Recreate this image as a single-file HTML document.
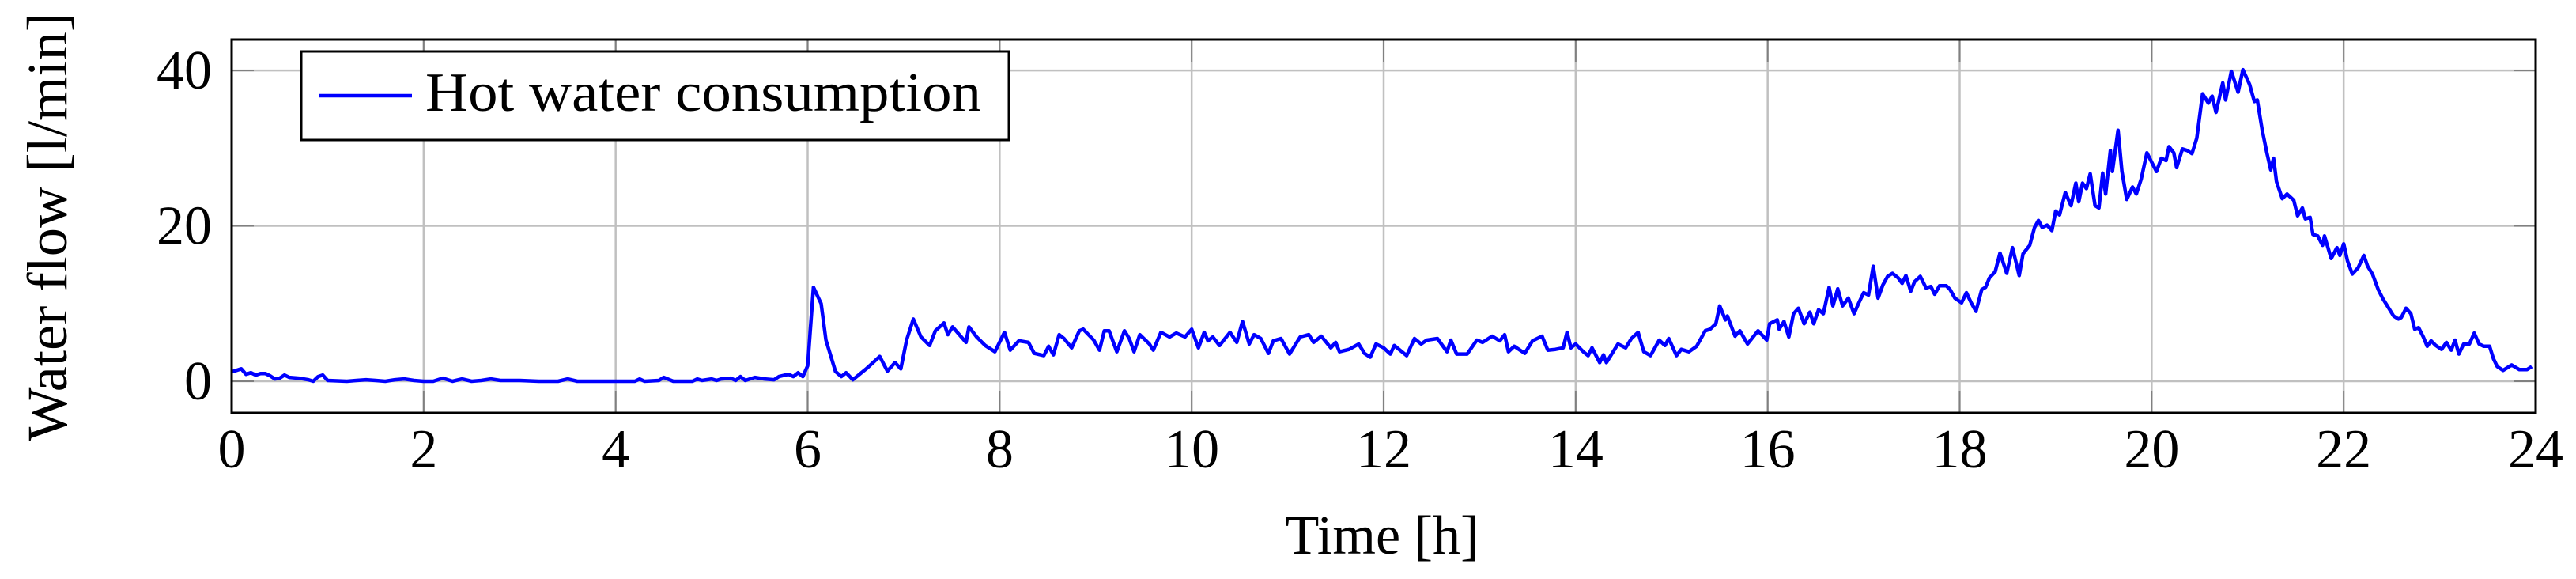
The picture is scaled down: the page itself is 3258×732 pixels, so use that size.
<!DOCTYPE html>
<html><head><meta charset="utf-8"><style>
html,body{margin:0;padding:0;background:#fff}
svg{display:block}
text{font-family:"Liberation Serif",serif;fill:#000}
</style></head><body>
<svg id="chart" width="3258" height="732" viewBox="0 0 3258 732" xmlns="http://www.w3.org/2000/svg">
<g id="grid"></g>
<g id="series"></g>
<rect x="293" y="50" width="2914" height="472" fill="none" stroke="#000" stroke-width="3"/>
<g id="ticks"></g>
<g>
<rect x="381" y="65" width="895" height="112" fill="#fff" stroke="#000" stroke-width="3"/>
<line x1="404" y1="121" x2="521" y2="121" stroke="#0000ff" stroke-width="4.5"/>
<text x="538" y="140" font-size="70" textLength="703" lengthAdjust="spacingAndGlyphs">Hot water consumption</text>
</g>
<text x="1748" y="700" font-size="70" text-anchor="middle" textLength="245" lengthAdjust="spacingAndGlyphs">Time [h]</text>
<text x="0" y="0" font-size="72" text-anchor="middle" textLength="542" lengthAdjust="spacingAndGlyphs" transform="translate(84,287) rotate(-90)">Water flow [l/min]</text>
</svg>
<script>
const hours=[0,0.1,0.15,0.2,0.25,0.3,0.35,0.4,0.45,0.5,0.55,0.6,0.7,0.8,0.85,0.9,0.95,1.0,1.2,1.3,1.4,1.5,1.6,1.7,1.8,1.9,2.0,2.1,2.2,2.3,2.4,2.5,2.6,2.7,2.8,3.0,3.2,3.4,3.5,3.6,4.0,4.2,4.25,4.3,4.45,4.5,4.6,4.8,4.85,4.9,5.0,5.05,5.1,5.2,5.25,5.3,5.35,5.45,5.55,5.65,5.7,5.8,5.85,5.9,5.95,6.0,6.06,6.14,6.19,6.29,6.35,6.40,6.47,6.61,6.75,6.83,6.91,6.97,7.03,7.10,7.18,7.27,7.33,7.42,7.46,7.51,7.65,7.68,7.76,7.85,7.95,8.05,8.11,8.2,
8.30,8.36,8.46,8.51,8.56,8.62,8.67,8.75,8.83,8.87,8.98,9.04,9.09,9.14,9.22,9.30,9.35,9.40,9.46,9.56,9.60,9.68,9.77,9.84,9.93,10.0,10.07,10.13,10.17,10.22,10.29,10.40,10.47,10.53,10.60,10.65,10.72,10.80,10.85,10.93,11.02,11.13,11.22,11.27,11.35,11.45,11.50,11.54,11.64,11.74,11.80,11.86,11.92,12.0,12.07,12.11,12.24,12.32,12.39,12.45,12.56,12.66,12.70,12.76,12.87,12.97,13.03,13.13,13.21,13.26,13.30,13.36,13.47,13.55,13.65,13.71,13.79,13.87,13.91,13.95,14.0,14.08,14.13,14.17,14.25,14.29,14.32,14.44,14.52,14.58,14.65,14.71,14.78,14.87,14.93,14.97,15.05,15.10,15.18,15.26,15.35,15.40,15.46,15.50,15.56,15.58,15.66,15.71,15.79,15.90,15.99,16.02,16.10,
16.12,16.17,16.22,16.27,16.32,16.38,16.44,16.48,16.53,16.58,16.64,16.68,16.73,16.78,16.84,16.90,16.95,17.0,17.05,17.10,17.15,17.20,17.25,17.30,17.36,17.40,17.44,17.49,17.53,17.59,17.65,17.70,17.74,17.79,17.86,17.90,17.95,18.02,18.07,18.12,18.17,18.23,18.27,18.31,18.37,18.42,18.49,18.55,18.62,18.66,18.73,18.78,18.82,18.86,18.91,18.96,19.0,19.04,19.10,19.16,19.21,19.24,19.28,19.32,19.36,19.41,19.45,19.49,19.52,19.57,19.59,19.65,19.69,19.74,19.80,19.84,19.89,19.95,20.0,20.05,20.10,20.15,20.18,20.23,20.26,20.32,20.37,20.42,20.47,20.53,20.59,20.63,20.67,20.74,20.77,20.83,20.90,20.95,21.02,21.07,21.10,21.15,21.20,21.24,21.27,21.30,21.36,21.41,21.48,21.52,21.57,21.60,21.65,21.68,21.73,21.78,21.80,21.87,21.93,21.96,22.0,22.04,22.09,22.15,22.21,22.25,22.30,22.36,22.41,22.46,22.52,22.57,22.60,22.65,22.70,22.74,22.78,22.83,22.87,22.91,22.96,23.02,23.07,23.12,23.16,23.20,23.25,23.31,23.36,23.41,23.46,23.52,23.56,23.60,23.66,23.75,23.83,23.91,23.96];
const flow=[1.2,1.6,0.9,1.1,0.8,1.0,1.0,0.7,0.3,0.4,0.8,0.5,0.4,0.2,0.0,0.6,0.8,0.1,0.0,0.1,0.2,0.1,0.0,0.2,0.3,0.1,0.0,0.0,0.4,0.0,0.3,0.0,0.1,0.3,0.1,0.1,0.0,0.0,0.3,0.0,0.0,0.0,0.3,0.0,0.1,0.5,0.0,0.0,0.3,0.1,0.3,0.1,0.3,0.4,0.1,0.6,0.1,0.5,0.3,0.2,0.6,0.9,0.6,1.1,0.6,2.0,12.1,10.0,5.3,1.25,0.6,1.1,0.2,1.6,3.2,1.3,2.4,1.6,5.3,8.0,5.7,4.6,6.5,7.5,6.0,7.0,5.0,7.0,5.7,4.6,3.8,6.3,4.0,5.2,
5.0,3.6,3.3,4.5,3.4,6.0,5.5,4.3,6.5,6.7,5.3,4.0,6.5,6.5,3.8,6.5,5.5,3.8,6.0,4.8,4.0,6.3,5.7,6.2,5.7,6.7,4.3,6.3,5.2,5.7,4.6,6.3,5.0,7.7,4.8,6.0,5.5,3.6,5.2,5.5,3.5,5.7,6.0,5.0,5.8,4.3,5.0,3.8,4.1,4.8,3.6,3.1,4.8,4.3,3.5,4.6,3.3,5.5,4.8,5.3,5.5,3.8,5.3,3.5,3.5,5.3,5.0,5.8,5.2,6.0,3.8,4.5,3.6,5.2,5.8,4.0,4.1,4.3,6.3,4.3,4.8,3.8,3.3,4.3,2.4,3.4,2.4,4.8,4.3,5.5,6.3,3.8,3.3,5.3,4.6,5.5,3.3,4.1,3.8,4.5,6.5,6.7,7.4,9.7,7.9,8.4,5.8,6.5,4.8,6.5,5.3,7.4,7.9,
6.7,7.7,5.7,8.7,9.4,7.4,8.9,7.4,9.2,8.7,12.1,9.7,11.9,9.7,10.7,8.7,10.1,11.4,11.1,14.8,10.7,12.4,13.5,13.9,13.3,12.6,13.6,11.6,12.8,13.5,12.0,12.2,11.2,12.3,12.3,11.8,10.7,10.1,11.4,10.1,9.0,11.8,12.1,13.3,14.1,16.5,13.9,17.2,13.6,16.4,17.5,19.8,20.7,19.8,20.1,19.4,21.9,21.4,24.3,22.6,25.5,23.1,25.5,24.8,26.7,22.6,22.3,26.8,24.1,29.7,27.0,32.3,27.0,23.4,25,24.1,26.0,29.4,28.2,27,28.7,28.4,30.2,29.4,27.5,29.9,29.7,29.3,31.3,37.0,35.8,36.7,34.6,38.4,36.2,39.9,37.2,40.1,38.2,36.0,36.2,32.4,29.4,27.2,28.7,25.7,23.5,24.1,23.3,21.3,22.3,20.9,21.1,18.9,18.7,17.5,18.7,15.8,17.2,16.2,17.7,15.5,13.8,14.6,16.2,14.8,13.8,11.8,10.6,9.6,8.4,8.0,8.2,9.4,8.7,6.7,6.9,5.7,4.5,5.2,4.6,4.1,5.0,4.0,5.3,3.5,4.8,4.8,6.2,4.8,4.5,4.5,2.9,1.9,1.4,2.1,1.5,1.5,1.9];
const xTicks=[0,2,4,6,8,10,12,14,16,18,20,22,24];
const yTicks=[0,20,40];
const X0=293,X1=3207,YT=50,YB=522,XMIN=0,XMAX=24,YMIN=-4.07,YMAX=43.98;
function xs(h){return X0+(h-XMIN)/(XMAX-XMIN)*(X1-X0);}
function ys(v){return YB-(v-YMIN)/(YMAX-YMIN)*(YB-YT);}
const NS="http://www.w3.org/2000/svg";
const grid=document.getElementById('grid'),ticks=document.getElementById('ticks'),series=document.getElementById('series');
function mk(tag,attrs,parent){const e=document.createElementNS(NS,tag);for(const k in attrs)e.setAttribute(k,attrs[k]);parent.appendChild(e);return e;}
xTicks.forEach(t=>{
  const x=xs(t);
  const g=mk('line',{x1:x,y1:YT,x2:x,y2:YB,stroke:'#c0c0c0','stroke-width':2.5},grid);
  
  
  const a=mk('line',{x1:x,y1:YB,x2:x,y2:YB-28,stroke:'#808080','stroke-width':2},grid);
  
  
  const b=mk('line',{x1:x,y1:YT,x2:x,y2:YT+28,stroke:'#808080','stroke-width':2},grid);
  
  
  const l=mk('text',{x:x,y:591,'font-size':70,'text-anchor':'middle'},ticks);
  l.textContent=String(t);
  
  
});
yTicks.forEach(t=>{
  const y=ys(t);
  const g=mk('line',{x1:X0,y1:y,x2:X1,y2:y,stroke:'#c0c0c0','stroke-width':2.5},grid);
  
  
  const a=mk('line',{x1:X0,y1:y,x2:X0+28,y2:y,stroke:'#808080','stroke-width':2},grid);
  
  
  const b=mk('line',{x1:X1,y1:y,x2:X1-28,y2:y,stroke:'#808080','stroke-width':2},grid);
  
  
  const l=mk('text',{x:268,y:y+23,'font-size':70,'text-anchor':'end'},ticks);
  l.textContent=String(t);
  
  
});
const pts=hours.map((h,i)=>xs(h).toFixed(1)+','+ys(flow[i]).toFixed(1)).join(' ');
const line=mk('polyline',{points:pts,fill:'none',stroke:'#0000ff','stroke-width':4.5,'stroke-linejoin':'round'},series);


</script>
</body></html>
